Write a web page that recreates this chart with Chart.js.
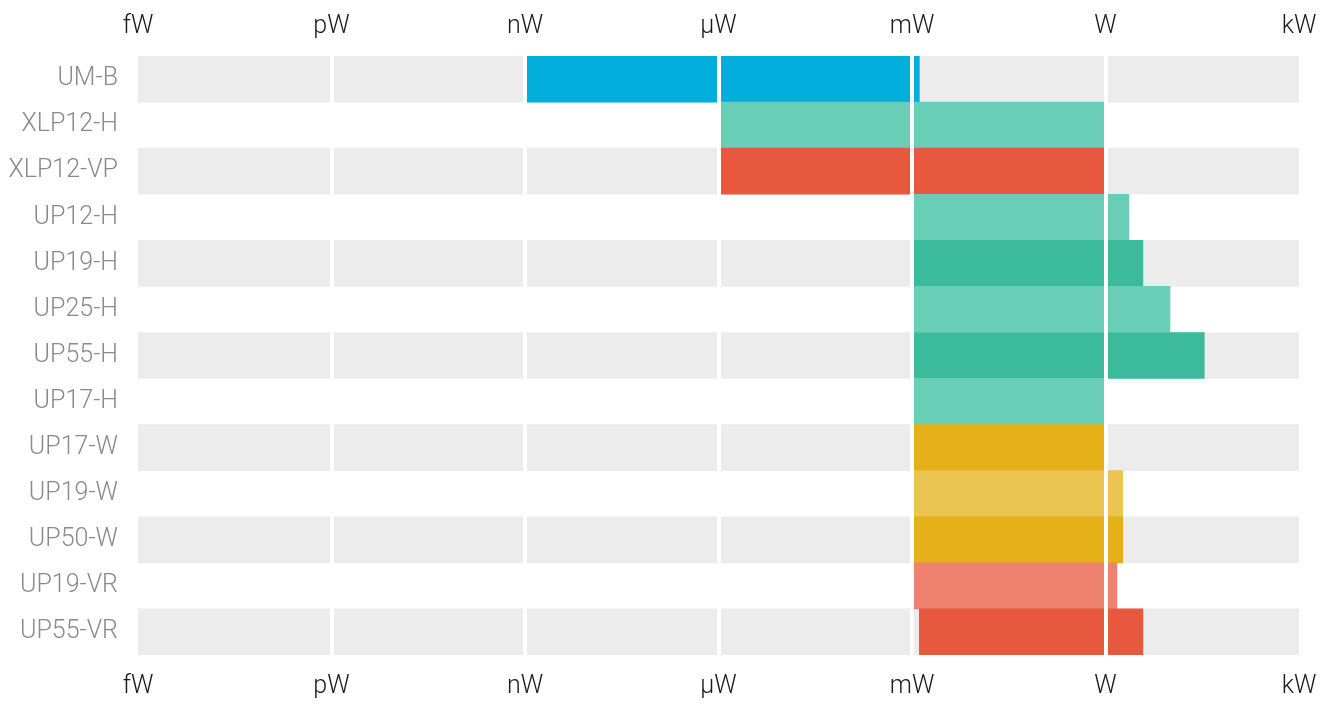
<!DOCTYPE html>
<html lang="en">
<head>
    <meta charset="UTF-8">
    <title>Detector power ranges</title>
    <script src="https://cdn.jsdelivr.net/npm/chart.js"></script>
    <style>
        html, body { margin: 0; padding: 0; background: #fff; }
        #wrap { width: 1326px; height: 705px; }
    </style>
</head>
<body>
    <div id="wrap"><canvas id="powerChart"></canvas></div>
    <script>
        // detector models, top to bottom
        const detectors = ['UM-B', 'XLP12-H', 'XLP12-VP', 'UP12-H', 'UP19-H', 'UP25-H', 'UP55-H',
            'UP17-H', 'UP17-W', 'UP19-W', 'UP50-W', 'UP19-VR', 'UP55-VR'];
        // measurable power range in watts
        const minPower = [1e-9, 1e-6, 1e-6, 1e-3, 1e-3, 1e-3, 1e-3, 1e-3, 1e-3, 1e-3, 1e-3, 1e-3, 1.3e-3];
        const maxPower = [1.3e-3, 1, 1, 2.3, 3.8, 10, 34, 1, 1, 1.85, 1.85, 1.5, 3.8];
        const barColors = ['#02aedc', '#6acdb5', '#e8583e', '#6acdb5', '#3cbb9c', '#6acdb5', '#3cbb9c',
            '#6acdb5', '#e6b019', '#ebc451', '#e6b019', '#ef826e', '#e8583e'];
        // axis ticks
        const tickValues = [1e-15, 1e-12, 1e-9, 1e-6, 1e-3, 1, 1e3];
        const tickLabels = ['fW', 'pW', 'nW', 'µW', 'mW', 'W', 'kW'];

        const xMin = tickValues[0];
        const xMax = tickValues[tickValues.length - 1];

        const ranges = detectors.map((d, i) => [minPower[i], maxPower[i]]);
        // striped background rows
        const stripes = detectors.map((d, i) => (i % 2 === 0 ? [xMin, xMax] : null));

        const fontFamily = "'Roboto', 'Liberation Sans', sans-serif";

        const fixTicks = (scale) => {
            scale.ticks = tickValues.map(v => ({ value: v }));
        };
        const fitX = (height) => (scale) => {
            scale.height = height;
            scale.paddingLeft = 0;
            scale.paddingRight = 0;
        };
        const tickText = (value) => {
            const i = tickValues.findIndex(v => Math.abs(Math.log10(v) - Math.log10(value)) < 1e-6);
            return i >= 0 ? tickLabels[i] : '';
        };
        // no white line on the outer edges
        const gridColor = (ctx) => (ctx.index === 0 || ctx.index === tickValues.length - 1) ? 'rgba(0,0,0,0)' : '#ffffff';

        new Chart(document.getElementById('powerChart'), {
            type: 'bar',
            data: {
                labels: detectors,
                datasets: [
                    {
                        label: 'range',
                        data: ranges,
                        backgroundColor: barColors,
                        borderWidth: 0,
                        borderSkipped: false,
                        categoryPercentage: 1,
                        barPercentage: 1,
                        grouped: false,
                        xAxisID: 'x',
                        order: 1
                    },
                    {
                        label: 'rows',
                        data: stripes,
                        backgroundColor: '#ececec',
                        borderWidth: 0,
                        categoryPercentage: 1,
                        barPercentage: 1,
                        grouped: false,
                        xAxisID: 'x',
                        order: 2
                    }
                ]
            },
            options: {
                indexAxis: 'y',
                responsive: true,
                maintainAspectRatio: false,
                animation: false,
                layout: { padding: { left: 0, right: 27, top: 0, bottom: 0 } },
                plugins: {
                    legend: { display: false },
                    tooltip: { enabled: false }
                },
                scales: {
                    x: {
                        type: 'logarithmic',
                        position: 'bottom',
                        min: xMin,
                        max: xMax,
                        afterBuildTicks: fixTicks,
                        afterFit: fitX(50),
                        border: { display: false },
                        // white separators drawn over the bars
                        grid: { z: 1, color: gridColor, lineWidth: 4, drawTicks: false },
                        ticks: {
                            autoSkip: false,
                            maxRotation: 0,
                            padding: 17,
                            color: '#1a1a1a',
                            font: { family: fontFamily, size: 25, weight: '300' },
                            callback: tickText
                        }
                    },
                    xTop: {
                        type: 'logarithmic',
                        position: 'top',
                        min: xMin,
                        max: xMax,
                        afterBuildTicks: fixTicks,
                        afterFit: fitX(56),
                        border: { display: false },
                        grid: { display: false, drawTicks: false },
                        ticks: {
                            autoSkip: false,
                            maxRotation: 0,
                            padding: 14,
                            color: '#1a1a1a',
                            font: { family: fontFamily, size: 25, weight: '300' },
                            callback: tickText
                        }
                    },
                    y: {
                        afterFit: (scale) => { scale.width = 138; },
                        border: { display: false },
                        grid: { display: false, drawTicks: false },
                        ticks: {
                            padding: 20,
                            color: '#8a8a8a',
                            font: { family: fontFamily, size: 25, weight: '300' }
                        }
                    }
                }
            }
        });
    </script>
</body>
</html>
